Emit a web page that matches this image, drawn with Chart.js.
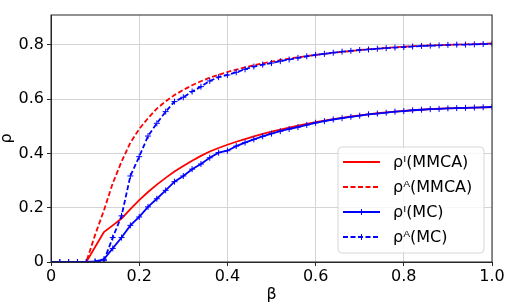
<!DOCTYPE html>
<html>
<head>
<meta charset="utf-8">
<script src="https://cdn.jsdelivr.net/npm/chart.js@4.4.1/dist/chart.umd.min.js"></script>
<style>
  html, body { margin: 0; padding: 0; background: #fff; }
  canvas { display: block; }
</style>
</head>
<body>
<canvas id="myChart" width="513" height="308"></canvas>
<script>
// beta values (x axis)
const beta = [0, 0.02, 0.04, 0.06, 0.08, 0.10, 0.12, 0.14, 0.16, 0.18,
  0.20, 0.22, 0.24, 0.26, 0.28, 0.30, 0.32, 0.34, 0.36, 0.38,
  0.40, 0.42, 0.44, 0.46, 0.48, 0.50, 0.52, 0.54, 0.56, 0.58,
  0.60, 0.62, 0.64, 0.66, 0.68, 0.70, 0.72, 0.74, 0.76, 0.78,
  0.80, 0.82, 0.84, 0.86, 0.88, 0.90, 0.92, 0.94, 0.96, 0.98, 1.00];

const rhoI_MMCA = [0, 0, 0, 0, 0, 0.055, 0.11, 0.135, 0.16, 0.195,
  0.228, 0.258, 0.285, 0.31, 0.333, 0.354, 0.373, 0.391, 0.407, 0.42,
  0.432, 0.443, 0.453, 0.463, 0.472, 0.48, 0.488, 0.495, 0.502, 0.509,
  0.515, 0.521, 0.526, 0.531, 0.536, 0.54, 0.544, 0.548, 0.551, 0.554,
  0.557, 0.559, 0.561, 0.563, 0.565, 0.566, 0.567, 0.568, 0.569, 0.570, 0.571];

const rhoA_MMCA = [0, 0, 0, 0, 0, 0.10, 0.19, 0.29, 0.37, 0.44,
  0.49, 0.53, 0.565, 0.592, 0.615, 0.634, 0.651, 0.666, 0.679, 0.69,
  0.70, 0.709, 0.717, 0.725, 0.732, 0.738, 0.744, 0.749, 0.754, 0.759,
  0.763, 0.767, 0.771, 0.774, 0.777, 0.781, 0.784, 0.786, 0.789, 0.791,
  0.793, 0.795, 0.797, 0.798, 0.799, 0.800, 0.801, 0.802, 0.803, 0.804, 0.805];

const rhoI_MC = [0, 0, 0, 0, 0, 0.002, 0.01, 0.05, 0.09, 0.135,
  0.166, 0.203, 0.233, 0.264, 0.296, 0.317, 0.342, 0.361, 0.384, 0.403,
  0.41, 0.427, 0.44, 0.452, 0.463, 0.473, 0.482, 0.49, 0.497, 0.505,
  0.513, 0.519, 0.525, 0.53, 0.535, 0.539, 0.544, 0.547, 0.55, 0.554,
  0.556, 0.559, 0.561, 0.563, 0.564, 0.566, 0.567, 0.568, 0.569, 0.57, 0.571];

const rhoA_MC = [0, 0, 0, 0, 0, 0.001, 0.005, 0.09, 0.17, 0.317,
  0.388, 0.464, 0.511, 0.554, 0.591, 0.607, 0.628, 0.646, 0.667, 0.681,
  0.689, 0.699, 0.71, 0.72, 0.727, 0.733, 0.74, 0.746, 0.752, 0.758,
  0.763, 0.767, 0.771, 0.775, 0.778, 0.781, 0.783, 0.786, 0.788, 0.79,
  0.792, 0.794, 0.796, 0.797, 0.798, 0.8, 0.801, 0.801, 0.802, 0.803, 0.804];

const seriesLabels = ['ρᴵ(MMCA)', 'ρᴬ(MMCA)', 'ρᴵ(MC)', 'ρᴬ(MC)'];
const yTicks = [0, 0.2, 0.4, 0.6, 0.8];

const FONT = '"DejaVu Sans", sans-serif';
const RED = '#ff0000';
const BLUE = '#0000ff';
const DASH = [5, 2.5];

function pts(ys) {
  return beta.map((b, i) => ({ x: b, y: ys[i] }));
}

function tickFmt(v) {
  return v === 0 ? '0' : v.toFixed(1);
}

// frame, axis titles and legend box
const extras = {
  id: 'extras',
  afterDraw(chart) {
    const ctx = chart.ctx;
    const a = chart.chartArea;
    ctx.save();
    ctx.strokeStyle = '#262626';
    ctx.lineWidth = 1;
    ctx.strokeRect(a.left, a.top, a.right - a.left, a.bottom - a.top);

    ctx.fillStyle = '#000';
    ctx.font = '16px ' + FONT;
    ctx.textAlign = 'center';
    ctx.textBaseline = 'alphabetic';
    ctx.fillText('β', (a.left + a.right) / 2, 299);

    ctx.save();
    ctx.translate(11, (a.top + a.bottom) / 2);
    ctx.rotate(-Math.PI / 2);
    ctx.fillText('ρ', 0, 0);
    ctx.restore();

    // legend
    const bx = 338, by = 147, bw = 146, bh = 106, r = 4;
    ctx.beginPath();
    ctx.moveTo(bx + r, by);
    ctx.arcTo(bx + bw, by, bx + bw, by + bh, r);
    ctx.arcTo(bx + bw, by + bh, bx, by + bh, r);
    ctx.arcTo(bx, by + bh, bx, by, r);
    ctx.arcTo(bx, by, bx + bw, by, r);
    ctx.closePath();
    ctx.fillStyle = 'rgba(255,255,255,0.8)';
    ctx.fill();
    ctx.strokeStyle = '#d6d6d6';
    ctx.stroke();

    const ds = chart.data.datasets;
    ctx.textAlign = 'left';
    ctx.textBaseline = 'middle';
    for (let i = 0; i < ds.length; i++) {
      const y = 162 + i * 25;
      ctx.strokeStyle = ds[i].borderColor;
      ctx.lineWidth = 1.8;
      ctx.setLineDash(ds[i].borderDash || []);
      ctx.beginPath();
      ctx.moveTo(343, y);
      ctx.lineTo(380, y);
      ctx.stroke();
      ctx.setLineDash([]);
      if (ds[i].pointRadius > 0) {
        ctx.lineWidth = 1;
        ctx.beginPath();
        ctx.moveTo(361.5, y - 3);
        ctx.lineTo(361.5, y + 3);
        ctx.stroke();
      }
      ctx.fillStyle = '#000';
      ctx.fillText(ds[i].label, 393, y + 1);
    }
    ctx.restore();
  }
};

const config = {
  type: 'line',
  data: {
    datasets: [
      { label: seriesLabels[0], data: pts(rhoI_MMCA), borderColor: RED, borderWidth: 1.8, pointRadius: 0, order: 4 },
      { label: seriesLabels[1], data: pts(rhoA_MMCA), borderColor: RED, borderWidth: 1.8, borderDash: DASH, pointRadius: 0, order: 3 },
      { label: seriesLabels[2], data: pts(rhoI_MC), borderColor: BLUE, borderWidth: 1.8, pointRadius: 3, pointStyle: 'cross', pointBorderWidth: 1, pointBorderColor: BLUE, order: 2 },
      { label: seriesLabels[3], data: pts(rhoA_MC), borderColor: BLUE, borderWidth: 1.8, borderDash: DASH, pointRadius: 3, pointStyle: 'cross', pointBorderWidth: 1, pointBorderColor: BLUE, order: 1 }
    ]
  },
  options: {
    responsive: false,
    animation: false,
    events: [],
    layout: { padding: { top: 15, right: 21, left: 0, bottom: 0 } },
    elements: { line: { tension: 0, fill: false } },
    plugins: { legend: { display: false }, tooltip: { enabled: false } },
    scales: {
      x: {
        type: 'linear', min: 0, max: 1,
        afterFit(s) { s.height = 46; },
        grid: { color: '#d4d4d4', tickColor: '#262626', tickLength: 4, lineWidth: 1 },
        border: { color: '#262626' },
        ticks: { stepSize: 0.2, color: '#000', font: { family: FONT, size: 16 }, padding: 1, maxRotation: 0, callback: tickFmt }
      },
      y: {
        type: 'linear', min: 0, max: 0.91,
        afterBuildTicks(s) { s.ticks = yTicks.map(v => ({ value: v })); },
        afterFit(s) { s.width = 51; },
        grid: { color: '#d4d4d4', tickColor: '#262626', tickLength: 4, lineWidth: 1 },
        border: { color: '#262626' },
        ticks: { color: '#000', font: { family: FONT, size: 16 }, padding: 3, callback: tickFmt }
      }
    }
  },
  plugins: [extras]
};

new Chart(document.getElementById('myChart'), config);
</script>
</body>
</html>
